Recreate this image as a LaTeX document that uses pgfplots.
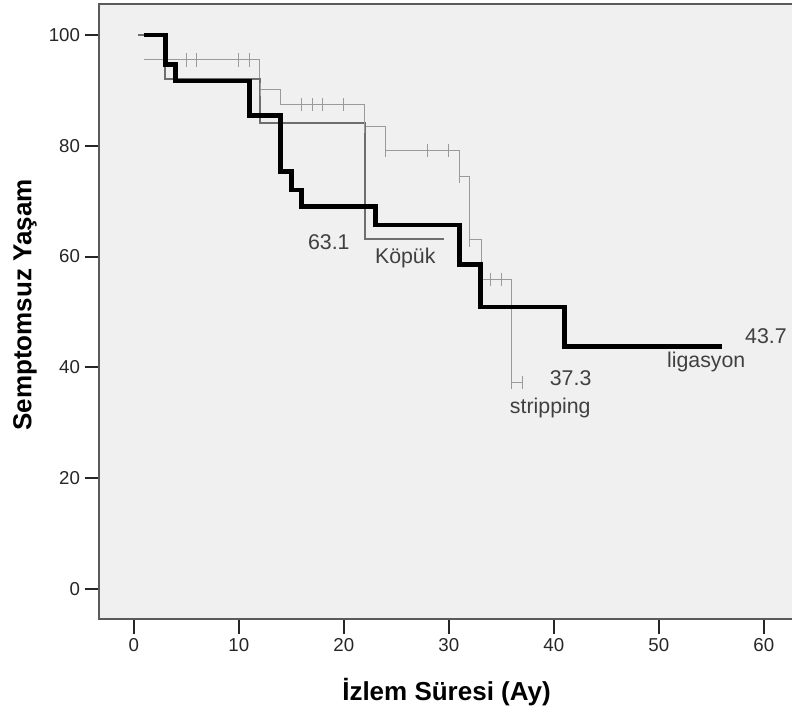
\documentclass[border=0pt]{standalone}
\usepackage{pgfplots}
\pgfplotsset{compat=1.18}
\usepackage{fontspec}
\setmainfont{Liberation Sans}

\definecolor{bgc}{HTML}{F0F0F0}
\definecolor{kopuk}{HTML}{6E6E6E}
\definecolor{strip}{HTML}{9A9A9A}
\definecolor{frame}{HTML}{5A5A5A}

% step curves (value held until next time)
\pgfplotstableread{
t   s
1   100
3   94.6
4   91.7
11  85.4
14  75.3
15  72.0
16  69.0
23  65.7
31  58.5
33  50.9
41  43.7
56  43.7
}\ligasyon
\pgfplotstableread{
t    s
0.4  100
3    92.0
12   84.1
22   63.1
29.5 63.1
}\kopuk
\pgfplotstableread{
t    s
1    95.5
12   90.1
14   87.4
22   83.5
24   79.2
31   74.4
32   63.0
33.1 55.9
36   37.3
37   37.3
}\stripping
% censored cases
\pgfplotstableread{
t    s
5    95.5
6    95.5
10   95.5
11   95.5
12.1 90.1
16   87.4
17   87.4
18   87.4
20   87.4
22   83.5
24   79.2
28   79.2
30   79.2
31   74.4
32   63.0
34   55.9
35   55.9
36   37.3
37   37.3
}\strippingcens

\begin{document}
\begin{tikzpicture}
\path[use as bounding box] (-74.5pt,-72pt) rectangle (519.5pt,464.25pt);
\begin{axis}[
    scale only axis,
    width=520.5pt, height=461.25pt,
    xmin=-3.28, xmax=62.81,
    ymin=-5.42, ymax=105.59,
    axis background/.style={fill=bgc},
    axis line style={frame, line width=1.5pt},
    xtick={0,10,...,60}, ytick={0,20,...,100},
    xtick pos=left, ytick pos=left,
    tick align=outside,
    major tick length=11pt,
    tick style={black!85, line width=1.5pt},
    ticklabel style={font=\fontsize{14}{16}\selectfont, text=black!85, /pgf/number format/assume math mode=true},
    xlabel={İzlem Süresi (Ay)},
    ylabel={Semptomsuz Yaşam},
    label style={font=\bfseries\fontsize{19.5}{22}\selectfont},
    xlabel style={at={(axis description cs:0.5003,-0.119)}, anchor=center},
    ylabel style={at={(axis description cs:-0.107,0.5106)}, anchor=center, rotate=0},
    clip=false,
]
\addplot[const plot, strip, line width=0.8pt] table[x=t,y=s] {\stripping};
\addplot[only marks, mark=|, mark size=5pt, strip, mark options={line width=0.8pt}] table[x=t,y=s] {\strippingcens};
\addplot[const plot, kopuk, line width=1.6pt] table[x=t,y=s] {\kopuk};
\addplot[const plot, black, line width=3.6pt] table[x=t,y=s] {\ligasyon};

\node[anchor=base west, inner sep=0, text=black!75, font=\fontsize{16}{18}\selectfont] at (axis cs:16.57,61.2) {63.1};
\node[anchor=base west, inner sep=0, text=black!75, font=\fontsize{16}{18}\selectfont] at (axis cs:22.95,58.8) {Köpük};
\node[anchor=base west, inner sep=0, text=black!75, font=\fontsize{16}{18}\selectfont] at (axis cs:39.6,36.7) {37.3};
\node[anchor=base west, inner sep=0, text=black!75, font=\fontsize{16}{18}\selectfont] at (axis cs:35.8,31.6) {stripping};
\node[anchor=base west, inner sep=0, text=black!75, font=\fontsize{16}{18}\selectfont] at (axis cs:58.2,44.35) {43.7};
\node[anchor=base west, inner sep=0, text=black!75, font=\fontsize{16}{18}\selectfont] at (axis cs:50.76,39.95) {ligasyon};
\end{axis}
\end{tikzpicture}
\end{document}
